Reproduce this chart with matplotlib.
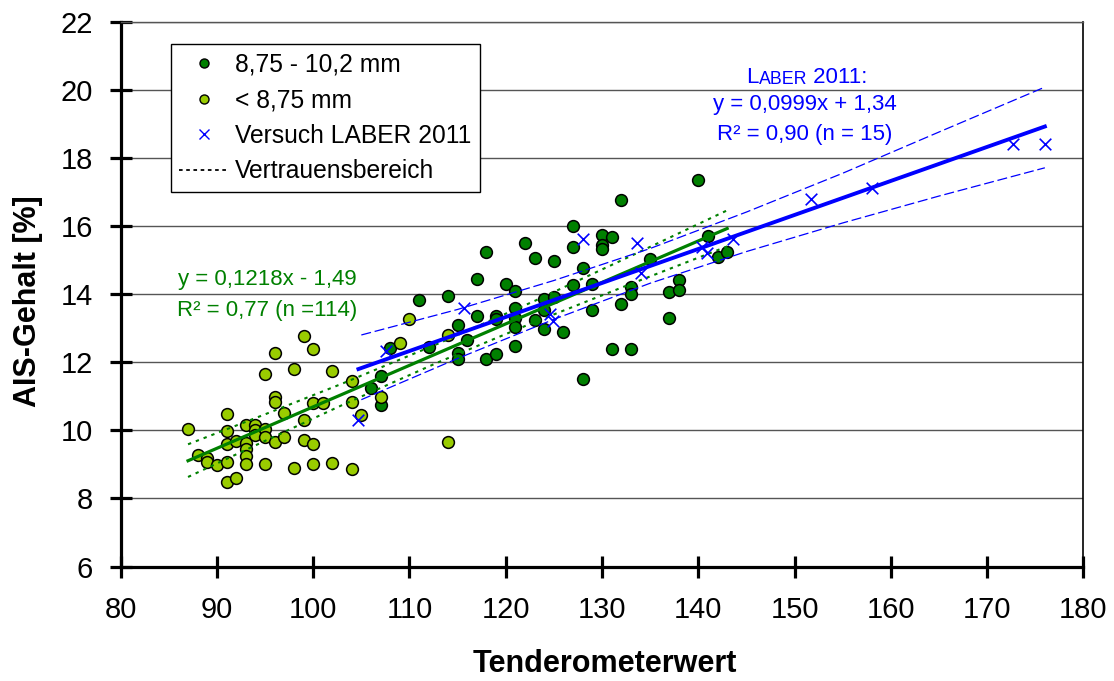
import matplotlib.pyplot as plt
from matplotlib.lines import Line2D

plt.rcParams['font.family'] = ['Liberation Sans', 'DejaVu Sans']

# Sortierung 8,75 - 10,2 mm
gross_x = [106, 107, 107, 108, 111, 112, 114, 115, 115, 115, 116, 117, 117,
           118, 118, 119, 119, 119, 120, 121, 121, 121, 121, 121, 122, 123,
           123, 124, 124, 124, 125, 125, 126, 127, 127, 127, 128, 128, 129,
           129, 130, 130, 130, 131, 131, 132, 132, 133, 133, 133, 135, 137,
           137, 138, 138, 140, 141, 142, 143]
gross_y = [11.24, 11.59, 10.73, 12.43, 13.83, 12.46, 13.94, 13.10, 12.28, 12.09,
           12.65, 14.43, 13.36, 15.24, 12.09, 13.36, 13.27, 12.24, 14.30, 14.10,
           13.60, 13.29, 13.04, 12.47, 15.51, 15.07, 13.24, 13.85, 13.53, 12.98,
           14.96, 13.92, 12.88, 16.00, 15.39, 14.27, 14.76, 11.50, 14.30, 13.52,
           15.73, 15.44, 15.32, 15.67, 12.39, 16.75, 13.71, 14.22, 13.99, 12.39,
           15.02, 14.07, 13.31, 14.41, 14.12, 17.35, 15.71, 15.10, 15.24]

# Sortierung < 8,75 mm
klein_x = [87, 88, 89, 89, 90, 91, 91, 91, 91, 91, 92, 92, 93, 93, 93, 93, 93,
           94, 94, 94, 95, 95, 95, 95, 96, 96, 96, 96, 97, 97, 98, 98, 99, 99,
           99, 100, 100, 100, 100, 101, 102, 102, 104, 104, 104, 105, 107, 109,
           110, 114, 114]
klein_y = [10.03, 9.28, 9.20, 9.08, 8.97, 10.47, 9.98, 9.60, 9.06, 8.49, 8.59,
           9.68, 10.17, 9.62, 9.44, 9.25, 9.00, 10.17, 10.00, 9.86, 10.03, 9.79,
           9.00, 11.66, 12.28, 10.99, 10.83, 9.67, 10.52, 9.81, 11.81, 8.88,
           12.77, 10.31, 9.72, 12.39, 10.81, 9.59, 9.00, 10.79, 11.73, 9.03,
           11.44, 10.82, 8.86, 10.46, 10.97, 12.57, 13.26, 12.81, 9.65]

# Versuch LABER 2011
laber_x = [104.7, 107.6, 115.7, 124.6, 124.9, 128.0, 133.6, 134.1, 140.4,
           140.9, 143.6, 151.7, 158.0, 172.7, 176.0]
laber_y = [10.30, 12.33, 13.60, 13.41, 13.21, 15.61, 15.50, 14.61, 15.37,
           15.20, 15.61, 16.80, 17.12, 18.40, 18.40]

# Trendlinien (Koeffizienten aus dem Diagramm)
gruen_a, gruen_b = 0.1218, -1.49
blau_a, blau_b = 0.0999, 1.34
gruen_x = [87, 143]
blau_x = [104.7, 176]

# Vertrauensbereiche
gruen_vb_x = [87, 95, 103, 113, 123, 133, 143]
gruen_vb_oben = [9.59, 10.47, 11.37, 12.55, 13.80, 15.12, 16.46]
gruen_vb_unten = [8.63, 9.69, 10.74, 12.00, 13.18, 14.30, 15.40]
blau_vb_x = [105, 115, 125, 135, 145, 155, 165, 176]
blau_vb_oben = [12.80, 13.55, 14.40, 15.34, 16.41, 17.55, 18.76, 20.08]
blau_vb_unten = [10.90, 12.11, 13.26, 14.32, 15.25, 16.09, 16.88, 17.71]

dunkelgruen = '#008000'
hellgruen = '#99CC00'
blau = '#0000FF'

fig = plt.figure(figsize=(11.14, 6.81), dpi=100)
ax = fig.add_axes([0.1083, 0.1681, 0.8642, 0.80])

ax.scatter(gross_x, gross_y, s=72, c=dunkelgruen, edgecolors='black',
           linewidths=1.1, zorder=3)
ax.scatter(klein_x, klein_y, s=72, c=hellgruen, edgecolors='black',
           linewidths=1.1, zorder=3)

ax.plot(gruen_x, [gruen_a * x + gruen_b for x in gruen_x], color=dunkelgruen,
        lw=2.3, zorder=4)
ax.plot(gruen_vb_x, gruen_vb_oben, color=dunkelgruen, lw=1.5,
        ls=(0, (1.6, 2.4)), zorder=4)
ax.plot(gruen_vb_x, gruen_vb_unten, color=dunkelgruen, lw=1.5,
        ls=(0, (1.6, 2.4)), zorder=4)

ax.plot(blau_x, [blau_a * x + blau_b for x in blau_x], color=blau, lw=2.8,
        zorder=4)
ax.plot(blau_vb_x, blau_vb_oben, color=blau, lw=0.9, ls=(0, (8, 3)), zorder=4)
ax.plot(blau_vb_x, blau_vb_unten, color=blau, lw=0.9, ls=(0, (8, 3)), zorder=4)

ax.scatter(laber_x, laber_y, s=70, marker='x', c=blau, linewidths=1.2,
           zorder=5)

ax.set_xlim(80, 180)
ax.set_ylim(6, 22)
ax.set_xticks(range(80, 181, 10))
ax.set_yticks(range(6, 23, 2))
ax.yaxis.grid(True, color='#555555', lw=1)
ax.set_axisbelow(True)
ax.tick_params(direction='inout', length=16, width=2.3, labelsize=21)
ax.tick_params(axis='x', pad=13)
ax.tick_params(axis='y', pad=12)
for s in ['left', 'bottom']:
    ax.spines[s].set_linewidth(2.3)
ax.spines['right'].set_linewidth(1.2)
ax.spines['top'].set_color('#555555')
ax.spines['top'].set_linewidth(1)

fig.text(605 / 1114, 1 - 664 / 681, 'Tenderometerwert', fontsize=22,
         fontweight='bold', ha='center', va='center')
fig.text(28 / 1114, 1 - 301 / 681, 'AIS-Gehalt [%]', fontsize=22,
         fontweight='bold', ha='center', va='center', rotation=90)

# Beschriftungen der Trendlinien
ax.text(95.2, 14.27, 'y = 0,1218x - 1,49', color=dunkelgruen, fontsize=16,
        ha='center', va='baseline')
ax.text(95.2, 13.36, 'R² = 0,77 (n =114)', color=dunkelgruen, fontsize=16,
        ha='center', va='baseline')

t1 = ax.text(145.0, 20.05, 'L', color=blau, fontsize=16, ha='left',
             va='bottom')
t2 = ax.annotate('ABER', xy=(1, 0), xycoords=t1, color=blau, fontsize=12.8,
                 ha='left', va='bottom')
ax.annotate(' 2011:', xy=(1, 0), xycoords=t2, color=blau, fontsize=16,
            ha='left', va='bottom')
ax.text(151.1, 19.41, 'y = 0,0999x + 1,34', color=blau, fontsize=16,
        ha='center', va='baseline')
ax.text(151.1, 18.52, 'R² = 0,90 (n = 15)', color=blau, fontsize=16,
        ha='center', va='baseline')

handles = [
    Line2D([], [], ls='none', marker='o', ms=6.5, mfc=dunkelgruen, mec='black',
           mew=1),
    Line2D([], [], ls='none', marker='o', ms=6.5, mfc=hellgruen, mec='black',
           mew=1),
    Line2D([], [], ls='none', marker='x', ms=7, mec=blau, mew=1),
    Line2D([], [], color='black', lw=1.3, ls=(0, (2, 2))),
]
labels = ['8,75 - 10,2 mm', '< 8,75 mm', 'Versuch LABER 2011',
          'Vertrauensbereich']
leg = ax.legend(handles, labels, loc='upper left',
                bbox_to_anchor=(0.052, 0.959), borderaxespad=0,
                fontsize=17.7, frameon=True, fancybox=False, framealpha=1,
                edgecolor='black', handlelength=2.0, handletextpad=0.25,
                labelspacing=0.47, borderpad=0.35)
leg.get_frame().set_linewidth(1)

fig.savefig('out.png', dpi=100)
